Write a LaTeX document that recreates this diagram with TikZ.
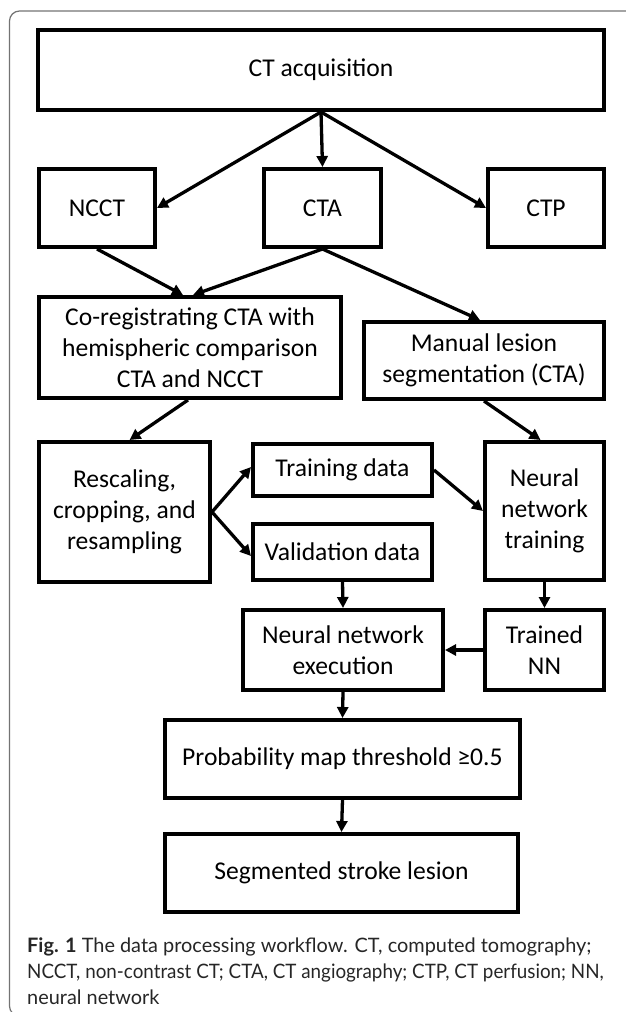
\documentclass[tikz,border=0pt]{standalone}
\usepackage{fontspec}
\usepackage{graphicx}
\setmainfont{Carlito}
\newfontfamily\capfont{Lato}
\usetikzlibrary{arrows.meta}
\begin{document}
\begin{tikzpicture}[x=1pt,y=-1pt,
  box/.style={draw=black, line width=4.3pt, inner sep=0pt, align=center,
    font=\fontsize{25.6}{31}\selectfont},
  arr/.style={line width=3.3pt, -{Triangle[length=11pt,width=11pt]}}]
\useasboundingbox (0,0) rectangle (625,1012);
\draw[black!55, line width=1.2pt, rounded corners=10pt] (9.5,11) rectangle (700,1016);

% boxes: centre = midpoint of outer edges, size = outer - line width
\node[box, minimum width=565.7pt, minimum height=79.7pt] (ct) at (321,70) {CT acquisition};
\node[box, minimum width=115.7pt, minimum height=77.7pt] (ncct) at (97,208) {NCCT};
\node[box, minimum width=116.7pt, minimum height=77.7pt] (cta) at (322.5,208) {CTA};
\node[box, minimum width=115.7pt, minimum height=77.7pt] (ctp) at (546,208) {CTP};
\node[box, minimum width=301.7pt, minimum height=100.7pt] (coreg) at (190,347.5) {Co-registrating CTA with\\hemispheric comparison\\CTA and NCCT};
\node[box, minimum width=239.7pt, minimum height=76.7pt] (manual) at (484,360.5) {Manual lesion\\segmentation (CTA)};
\node[box, minimum width=170.7pt, minimum height=139.7pt] (resc) at (124.5,512) {Rescaling,\\cropping, and\\resampling};
\node[box, minimum width=178.7pt, minimum height=51.7pt] (train) at (342.5,470) {Training data};
\node[box, minimum width=178.7pt, minimum height=55.7pt] (valid) at (342.5,552) {Validation data};
\node[box, minimum width=118.7pt, minimum height=137.7pt] (nntrain) at (544.5,511) {Neural\\network\\training};
\node[box, minimum width=199.7pt, minimum height=79.7pt] (nnexec) at (343,650) {Neural network\\execution};
\node[box, minimum width=118.7pt, minimum height=79.7pt] (trained) at (544.5,650) {Trained\\NN};
\node[box, minimum width=354.7pt, minimum height=77.7pt] (prob) at (342.5,759) {Probability map threshold ≥0.5};
\node[box, minimum width=352.7pt, minimum height=77.7pt] (seg) at (341.5,873) {Segmented stroke lesion};

% connectors
\draw[arr] (ct.south) -- (ncct.east);
\draw[arr] (ct.south) -- (cta.north);
\draw[arr] (ct.south) -- (ctp.west);
\draw[arr] (ncct.south) -- ([xshift=-7pt]coreg.north);
\draw[arr] (cta.south) -- ([xshift=3pt]coreg.north);
\draw[arr] (cta.south) -- ([xshift=-4pt]manual.north);
\draw[arr] ([xshift=-2pt]coreg.south) -- ([xshift=5pt]resc.north);
\draw[arr] (manual.south) -- ([xshift=-4pt]nntrain.north);
\draw[arr] (resc.east) -- ([yshift=3pt]train.west);
\draw[arr] (resc.east) -- ([yshift=-4pt]valid.west);
\draw[arr] (train.east) -- (nntrain.west);
\draw[arr] (valid.south) -- (nnexec.north);
\draw[arr] (nntrain.south) -- (trained.north);
\draw[arr] (trained.west) -- (nnexec.east);
\draw[arr] (nnexec.south) -- (prob.north);
\draw[arr] (prob.south) -- (seg.north);

% caption
\node[anchor=north west, inner sep=0pt, align=left, text=black!85,
  font=\capfont\fontsize{19.9}{26}\selectfont] (cap) at (27,938)
  {{\bfseries Fig. 1} The data processing workflow. CT, computed tomography;\\
   \scalebox{0.945}[1]{NCCT, non-contrast CT; CTA, CT angiography; CTP, CT perfusion; NN,}\\
   neural network};
\end{tikzpicture}
\end{document}
